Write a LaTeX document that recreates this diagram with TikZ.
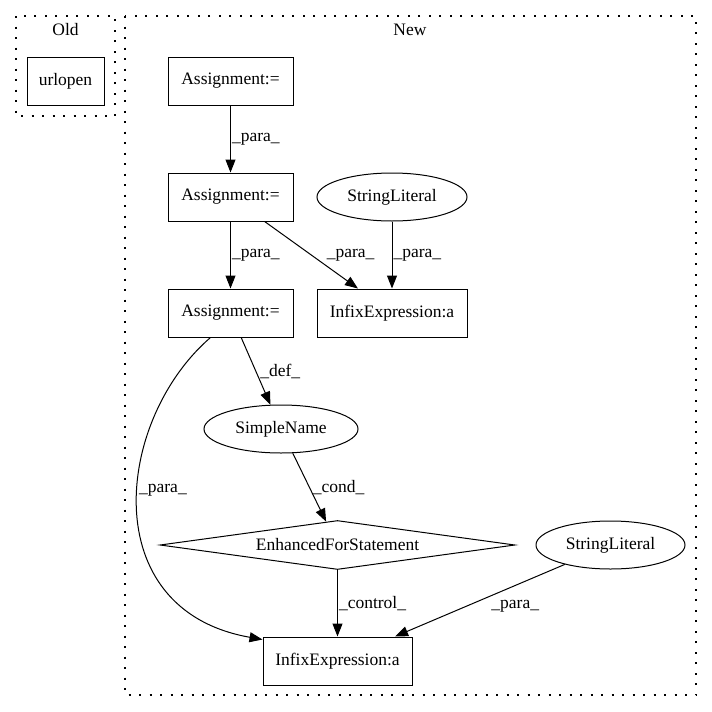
\documentclass[tikz,border=0pt]{standalone}
\usepackage{fontspec}
\setmainfont{Liberation Serif}
\usetikzlibrary{arrows.meta,shapes.geometric}

\begin{document}
\begin{tikzpicture}[x=1pt, y=-1pt,
    every node/.style={font=\fontsize{17.5}{20}\selectfont},
    box/.style={draw, line width=1pt, minimum width=125pt, minimum height=48pt, inner sep=0pt},
    oval/.style={draw, ellipse, line width=1pt, minimum width=150pt, minimum height=48pt, inner sep=0pt},
    cond/.style={draw, diamond, aspect=7, line width=1pt, minimum width=355pt, minimum height=49pt, inner sep=0pt},
    cluster/.style={draw, line width=1.2pt, dash pattern=on 2pt off 8.5pt},
    edge/.style={line width=1pt, -{Triangle[length=13pt,width=10pt]}},
    lbl/.style={inner sep=1pt}]
  \useasboundingbox (0,0) rectangle (712,712);
  % clusters
  \draw[cluster] (16,16) rectangle (115,116);
  \node (oldlbl) at (65.5,30) {Old};
  \draw[cluster] (125,16) rectangle (696,695);
  \node (newlbl) at (410,30) {New};
  % nodes
  \node[box, minimum width=77pt] (urlopen) at (65.5,81) {urlopen};
  \node[box] (a1) at (230.5,81) {Assignment:=};
  \node[box] (a2) at (230.5,197) {Assignment:=};
  \node[box] (a3) at (230.5,313) {Assignment:=};
  \node[box, minimum width=150pt] (infT) at (392,313) {InfixExpression:a};
  \node[oval] (slT) at (392,197) {StringLiteral};
  \node[oval, minimum width=154pt] (sn) at (281,429) {SimpleName};
  \node[cond] (efs) at (337.5,545) {EnhancedForStatement};
  \node[oval, minimum width=149pt] (slB) at (610.5,545) {StringLiteral};
  \node[box, minimum width=149pt] (infB) at (337.5,661) {InfixExpression:a};
  % edges
  \foreach \src/\dst/\lab/\dx in {
    a1/a2/para/0, a2/a3/para/0,
    a2/infT/para/14, slT/infT/para/0,
    a3/sn/def/3, sn/efs/cond/2,
    efs/infB/control/0} {
    \draw[edge] (\src) -- (\dst) node[lbl, midway, right, xshift=\dx pt] {\_\lab\_};
  }
  \draw[edge] (slB) -- (infB) node[lbl, midway, right=10pt, yshift=-6pt] {\_para\_};
  \draw[edge] ([xshift=-20pt]a3.south) .. controls (115,420) and (95,610) .. ([yshift=-3pt]infB.north west)
    node[lbl, pos=0.45, right] {\_para\_};
\end{tikzpicture}
\end{document}
